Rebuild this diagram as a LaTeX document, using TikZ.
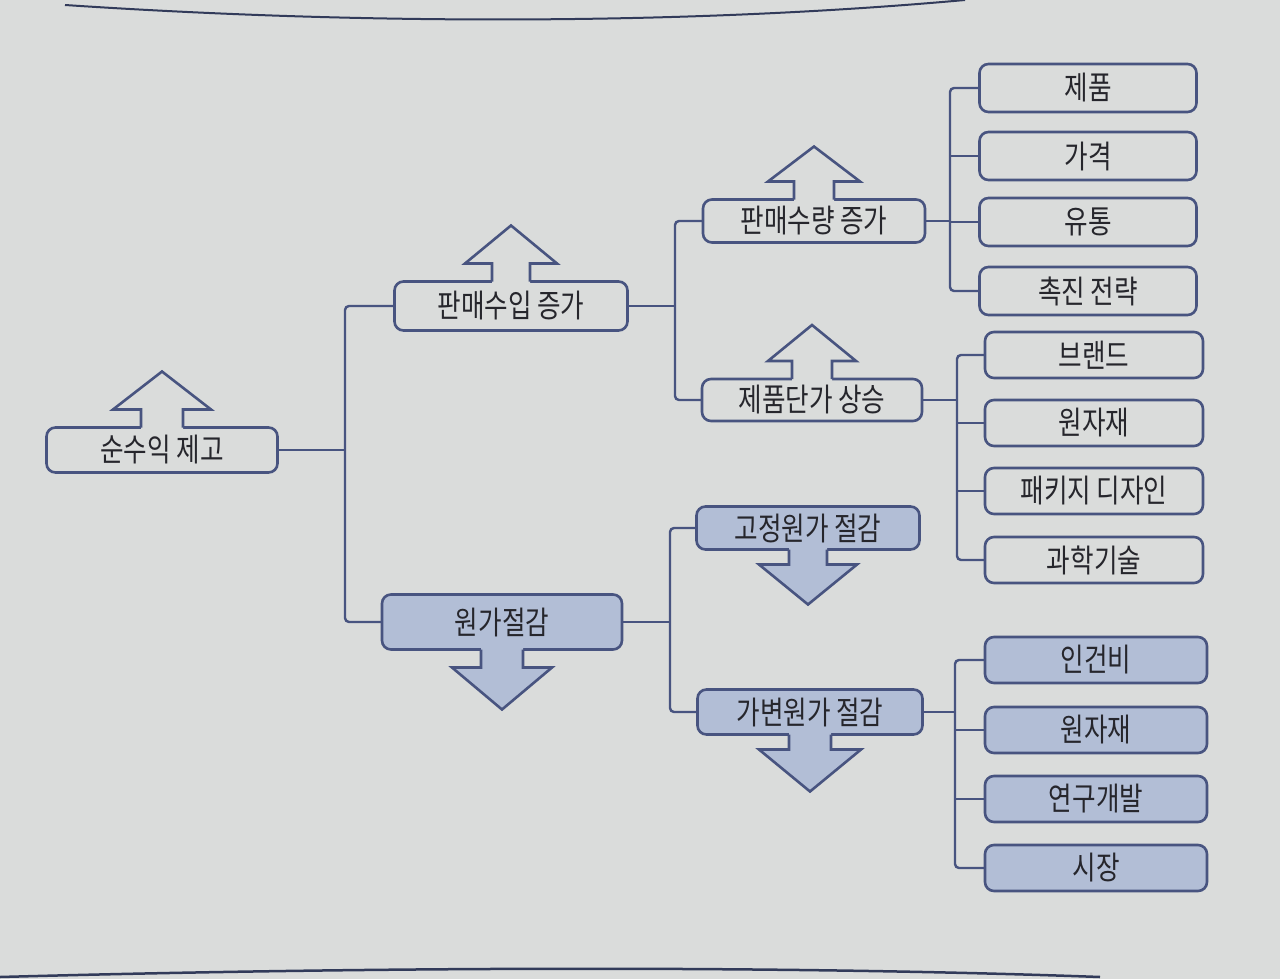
\documentclass[tikz,border=0pt]{standalone}
\usepackage{fontspec}
\newfontfamily\kr[FakeStretch=0.8]{Noto Sans CJK KR}
\usetikzlibrary{calc}
\definecolor{ink}{RGB}{72,84,128}
\definecolor{paper}{RGB}{218,220,219}
\definecolor{boxshade}{RGB}{178,190,214}
\definecolor{txt}{RGB}{38,38,44}
\tikzset{
 box/.style={draw=ink, line width=2.6pt, rounded corners=9pt, fill=paper, inner sep=0pt, outer sep=0pt, font=\kr\fontsize{32}{34}\selectfont, text=txt},
 sbox/.style={box, fill=boxshade},
 link/.style={draw=ink, line width=2.4pt, rounded corners=4pt},
 arrowline/.style={draw=ink, line width=2.6pt, line join=miter},
}
% node, fill, shaft half, head half, shaft length, head length
\newcommand\arrowup[6]{%
 \fill[#2] ($(#1.north)+(-#3,2)$) -- ($(#1.north)+(-#3,-#5)$) -- ($(#1.north)+(-#4,-#5)$) -- ($(#1.north)+(0,-#5-#6)$) -- ($(#1.north)+(#4,-#5)$) -- ($(#1.north)+(#3,-#5)$) -- ($(#1.north)+(#3,2)$) -- cycle;
 \draw[arrowline] ($(#1.north)+(-#3,0)$) -- ($(#1.north)+(-#3,-#5)$) -- ($(#1.north)+(-#4,-#5)$) -- ($(#1.north)+(0,-#5-#6)$) -- ($(#1.north)+(#4,-#5)$) -- ($(#1.north)+(#3,-#5)$) -- ($(#1.north)+(#3,0)$);
}
\newcommand\arrowdown[6]{%
 \fill[#2] ($(#1.south)+(-#3,-2)$) -- ($(#1.south)+(-#3,#5)$) -- ($(#1.south)+(-#4,#5)$) -- ($(#1.south)+(0,#5+#6)$) -- ($(#1.south)+(#4,#5)$) -- ($(#1.south)+(#3,#5)$) -- ($(#1.south)+(#3,-2)$) -- cycle;
 \draw[arrowline] ($(#1.south)+(-#3,0)$) -- ($(#1.south)+(-#3,#5)$) -- ($(#1.south)+(-#4,#5)$) -- ($(#1.south)+(0,#5+#6)$) -- ($(#1.south)+(#4,#5)$) -- ($(#1.south)+(#3,#5)$) -- ($(#1.south)+(#3,0)$);
}
\begin{document}
\begin{tikzpicture}[x=1pt,y=-1pt]
\fill[paper] (0,0) rectangle (1280,979);
\useasboundingbox (0,0) rectangle (1280,979);
% page edge lines
\draw[ink!70!black, line width=2pt] (65,5) .. controls (380,26) and (700,24) .. (965,0);
\draw[ink!70!black, line width=2.5pt] (0,977) .. controls (400,966) and (800,966) .. (1100,977);

% nodes
\node[box, minimum width=231pt, minimum height=45pt] (root) at (162,450) {순수익 제고};
\node[box, minimum width=233pt, minimum height=49pt] (pmsi) at (511,306) {판매수입 증가};
\node[box, minimum width=222pt, minimum height=43pt] (pmsq) at (814,221) {판매수량 증가};
\node[box, minimum width=220pt, minimum height=42pt] (pmdg) at (812,400) {제품단가 상승};
\node[sbox, minimum width=240pt, minimum height=55pt] (wg) at (502,622) {원가절감};
\node[sbox, minimum width=223pt, minimum height=43pt] (gj) at (808,528) {고정원가 절감};
\node[sbox, minimum width=225pt, minimum height=45pt] (gb) at (810,712) {가변원가 절감};

\node[box, minimum width=217pt, minimum height=48pt] (c1a) at (1088,88) {제품};
\node[box, minimum width=217pt, minimum height=48pt] (c1b) at (1088,156) {가격};
\node[box, minimum width=217pt, minimum height=48pt] (c1c) at (1088,222) {유통};
\node[box, minimum width=217pt, minimum height=48pt] (c1d) at (1088,291) {촉진 전략};

\node[box, minimum width=218pt, minimum height=46pt] (c2a) at (1094,355) {브랜드};
\node[box, minimum width=218pt, minimum height=46pt] (c2b) at (1094,423) {원자재};
\node[box, minimum width=218pt, minimum height=46pt] (c2c) at (1094,491) {패키지 디자인};
\node[box, minimum width=218pt, minimum height=46pt] (c2d) at (1094,560) {과학기술};

\node[sbox, minimum width=222pt, minimum height=46pt] (c3a) at (1096,660) {인건비};
\node[sbox, minimum width=222pt, minimum height=46pt] (c3b) at (1096,730) {원자재};
\node[sbox, minimum width=222pt, minimum height=46pt] (c3c) at (1096,799) {연구개발};
\node[sbox, minimum width=222pt, minimum height=46pt] (c3d) at (1096,868) {시장};

% junctions
\coordinate (j1) at (345,450);
\coordinate (j2) at (675,306);
\coordinate (j3) at (950,221);
\coordinate (j4) at (957,400);
\coordinate (j5) at (670,622);
\coordinate (j6) at (955,712);

\draw[link] (root.east) -- (j1);
\draw[link] (pmsi.west) -| (j1) |- (wg.west);
\draw[link] (pmsi.east) -- (j2);
\draw[link] (pmsq.west) -| (j2) |- (pmdg.west);
\draw[link] (pmsq.east) -- (j3);
\draw[link] (c1a.west) -| (j3) |- (c1d.west);
\draw[link] (c1b.west) -- (c1b.west -| j3);
\draw[link] (c1c.west) -- (c1c.west -| j3);
\draw[link] (pmdg.east) -- (j4);
\draw[link] (c2a.west) -| (j4) |- (c2d.west);
\draw[link] (c2b.west) -- (c2b.west -| j4);
\draw[link] (c2c.west) -- (c2c.west -| j4);
\draw[link] (wg.east) -- (j5);
\draw[link] (gj.west) -| (j5) |- (gb.west);
\draw[link] (gb.east) -- (j6);
\draw[link] (c3a.west) -| (j6) |- (c3d.west);
\draw[link] (c3b.west) -- (c3b.west -| j6);
\draw[link] (c3c.west) -- (c3c.west -| j6);

% block arrows
\arrowup{root}{paper}{21}{49}{18}{38}
\arrowup{pmsi}{paper}{19}{46}{18}{38}
\arrowup{pmsq}{paper}{20}{46}{18}{35}
\arrowup{pmdg}{paper}{20}{44}{18}{36}
\arrowdown{wg}{boxshade}{21}{50}{18}{42}
\arrowdown{gj}{boxshade}{19}{49}{15}{40}
\arrowdown{gb}{boxshade}{21}{51}{15}{42}
\end{tikzpicture}
\end{document}
